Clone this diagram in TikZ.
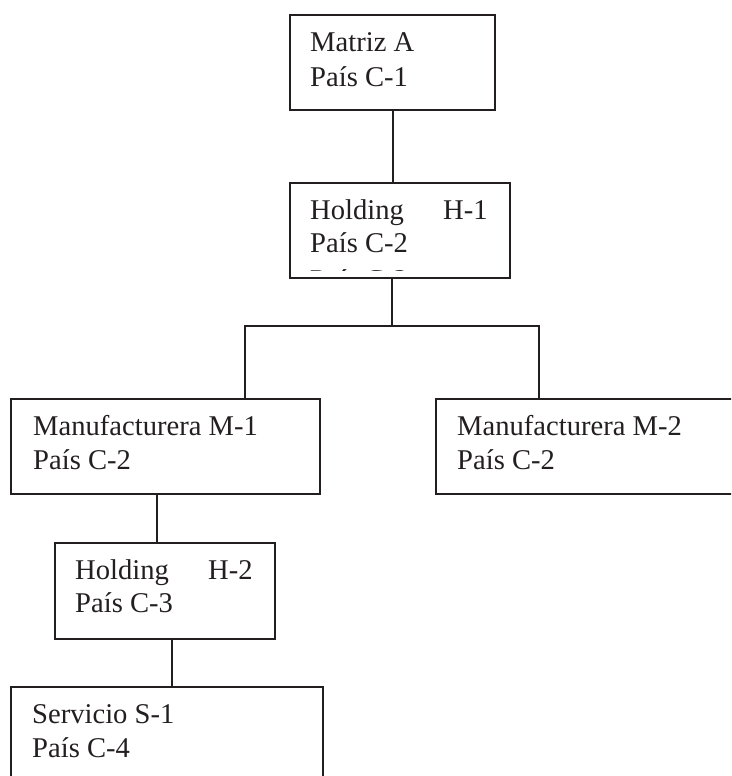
\documentclass[tikz,border=0pt]{standalone}
\usepackage{fontspec}
\setmainfont{Liberation Serif}
\usetikzlibrary{calc}
\definecolor{ink}{HTML}{231F20}
\tikzset{
  orgbox/.style={draw=ink, line width=2pt, rectangle, inner sep=0pt, anchor=north west},
  txt/.style={text=ink, inner sep=0pt, anchor=base west, font=\fontsize{28.6}{34}\selectfont},
  conn/.style={draw=ink, line width=2pt}
}
\begin{document}
\begin{tikzpicture}[x=1pt,y=-1pt]
\clip (0,0) rectangle (731,776);
\fill[white] (0,0) rectangle (731,776);
% boxes
\node[orgbox, minimum width=205pt, minimum height=95pt] (a)  at (289,14)  {};
\node[orgbox, minimum width=220pt, minimum height=95pt] (h1) at (289,182) {};
\node[orgbox, minimum width=309pt, minimum height=95pt] (m1) at (10,398)  {};
\node[orgbox, minimum width=320pt, minimum height=95pt] (m2) at (435,398) {};
\node[orgbox, minimum width=220pt, minimum height=96pt] (h2) at (54,542)  {};
\node[orgbox, minimum width=312pt, minimum height=110pt] (s1) at (10,686) {};
% texts
\node[txt] (a1)  at (310,52)  {Matriz A};
\node[txt] (a2)  at (310,86)  {País C-1};
\node[txt] (h11) at (310,219) {\makebox[133pt][l]{Holding}H-1};
\node[txt] (h12) at (310,252) {País C-2};
\begin{scope}
  \clip (290,262) rectangle (508,270.5);
  \node[txt] (h13) at (310,289) {País C-2};
\end{scope}
\node[txt] (m11) at (33,435)  {Manufacturera M-1};
\node[txt] (m12) at (33,469)  {País C-2};
\node[txt] (m21) at (457,435) {Manufacturera M-2};
\node[txt] (m22) at (457,469) {País C-2};
\node[txt] (h21) at (75,579)  {\makebox[133pt][l]{Holding}H-2};
\node[txt] (h22) at (75,612)  {País C-3};
\node[txt] (s11) at (32,723)  {Servicio S-1};
\node[txt] (s12) at (32,757)  {País C-4};
% connectors
\coordinate (j) at (391.5,326);
\coordinate (l) at (245,326);
\coordinate (r) at (539,326);
\coordinate (c1) at (157,0);
\coordinate (c2) at (172,0);
\draw[conn] (a.south) -- (a.south |- h1.north);
\draw[conn] (j |- h1.south) -- (j);
\draw[conn] (l |- m1.north) -- (l) -- (r) -- (r |- m2.north);
\draw[conn] (c1 |- m1.south) -- (c1 |- h2.north);
\draw[conn] (c2 |- h2.south) -- (c2 |- s1.north);
\end{tikzpicture}
\end{document}
